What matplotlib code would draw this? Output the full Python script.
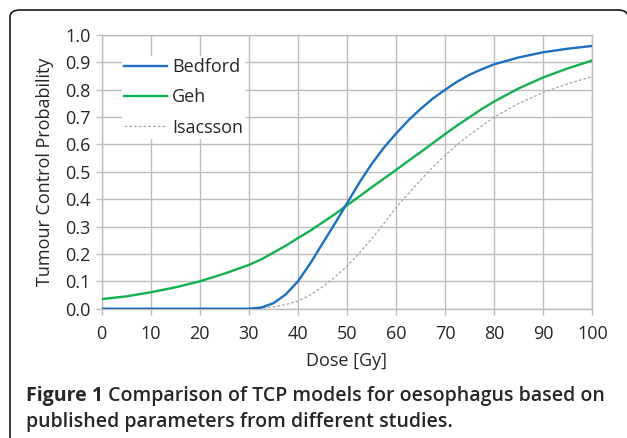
import matplotlib
matplotlib.use('Agg')
import matplotlib.pyplot as plt
import matplotlib.ticker as ticker
from matplotlib.patches import FancyBboxPatch

plt.rcParams['font.family'] = ['Open Sans', 'DejaVu Sans']

# values
dose = [0, 5, 10, 15, 20, 25, 30, 32.5, 35, 37.5, 40, 42.5, 45, 47.5, 50,
        52.5, 55, 57.5, 60, 62.5, 65, 67.5, 70, 72.5, 75, 77.5, 80, 85, 90, 95, 100]
bedford = [0, 0, 0, 0, 0, 0, 0, 0.004, 0.02, 0.052, 0.10, 0.165, 0.238, 0.31, 0.385,
           0.46, 0.528, 0.588, 0.64, 0.688, 0.73, 0.768, 0.80, 0.83, 0.855, 0.875, 0.893,
           0.918, 0.937, 0.95, 0.96]
geh = [0.035, 0.045, 0.06, 0.078, 0.10, 0.128, 0.16, 0.18, 0.205, 0.23, 0.258, 0.285, 0.315, 0.345, 0.378,
       0.41, 0.443, 0.475, 0.507, 0.54, 0.572, 0.605, 0.638, 0.67, 0.70, 0.73, 0.757,
       0.805, 0.845, 0.878, 0.907]
isacsson = [0, 0, 0, 0, 0, 0, 0, 0.002, 0.007, 0.015, 0.028, 0.05, 0.08, 0.115, 0.155,
            0.203, 0.255, 0.31, 0.37, 0.42, 0.47, 0.517, 0.56, 0.60, 0.635, 0.668, 0.70,
            0.75, 0.79, 0.822, 0.848]

series_names = ['Bedford', 'Geh', 'Isacsson']
x_ticks = list(range(0, 101, 10))
y_ticks = [i / 10 for i in range(11)]
caption_bold = 'Figure 1'
caption_rest = ' Comparison of TCP models for oesophagus based on'
caption_line2 = 'published parameters from different studies.'

W, H = 627, 438
fig = plt.figure(figsize=(W / 100, H / 100), dpi=100)
ax = fig.add_axes([101.7 / W, 1 - 308.7 / H, (592.3 - 101.7) / W, (308.7 - 35) / H])

# rounded frame round the whole figure (cropped at right and bottom)
frame = FancyBboxPatch((10 / W, -20 / H), (618 / W), (448 / H),
                       boxstyle='round,pad=0,rounding_size=0.016',
                       transform=fig.transFigure, fill=False,
                       edgecolor='#1a1a1a', linewidth=1.2, clip_on=False)
fig.patches.append(frame)

ax.plot(dose, bedford, color='#1c6fc0', lw=1.7, label=series_names[0], zorder=4)
ax.plot(dose, geh, color='#12b04e', lw=1.7, label=series_names[1], zorder=3)
ax.plot(dose, isacsson, color='#a6a6a6', lw=0.9, linestyle=(0, (2.2, 1.6)),
        label=series_names[2], zorder=2)

ax.set_xlim(0, 100)
ax.set_ylim(0, 1.0)
ax.set_xticks(x_ticks)
ax.set_yticks(y_ticks)
ax.yaxis.set_major_formatter(ticker.FormatStrFormatter('%.1f'))
ax.grid(True, color='#bdbdbd', lw=1.0)
ax.set_axisbelow(True)
for sp in ax.spines.values():
    sp.set_color('#bdbdbd')
    sp.set_linewidth(1.0)
ax.tick_params(direction='out', length=4, width=1.0, color='#bdbdbd',
               labelsize=13, labelcolor='#262626')
ax.tick_params(axis='x', pad=8)
ax.tick_params(axis='y', pad=4)

ax.set_xlabel('Dose [Gy]', fontsize=13, color='#262626', labelpad=6)
ax.set_ylabel('Tumour Control Probability', fontsize=13, color='#262626', labelpad=8)

leg = ax.legend(loc='upper left', bbox_to_anchor=(0.023, 0.955), fontsize=13,
                frameon=True, fancybox=False, framealpha=1, facecolor='white',
                edgecolor='none', handlelength=2.4, handletextpad=0.28,
                labelspacing=0.68, borderpad=0.1)
for t in leg.get_texts():
    t.set_color('#262626')

# caption, the bold part first then the rest right after it
fig.canvas.draw()
r = fig.canvas.get_renderer()
t1 = fig.text(26 / W, 1 - 396 / H, caption_bold, fontsize=14, fontweight='bold',
              color='#262626', va='center')
bb = t1.get_window_extent(renderer=r)
fig.text(bb.x1 / W, 1 - 396 / H, caption_rest, fontsize=14, fontweight='semibold',
         color='#262626', va='center')
fig.text(26 / W, 1 - 422 / H, caption_line2, fontsize=14, fontweight='semibold',
         color='#262626', va='center')

fig.savefig('out.png', dpi=100)
